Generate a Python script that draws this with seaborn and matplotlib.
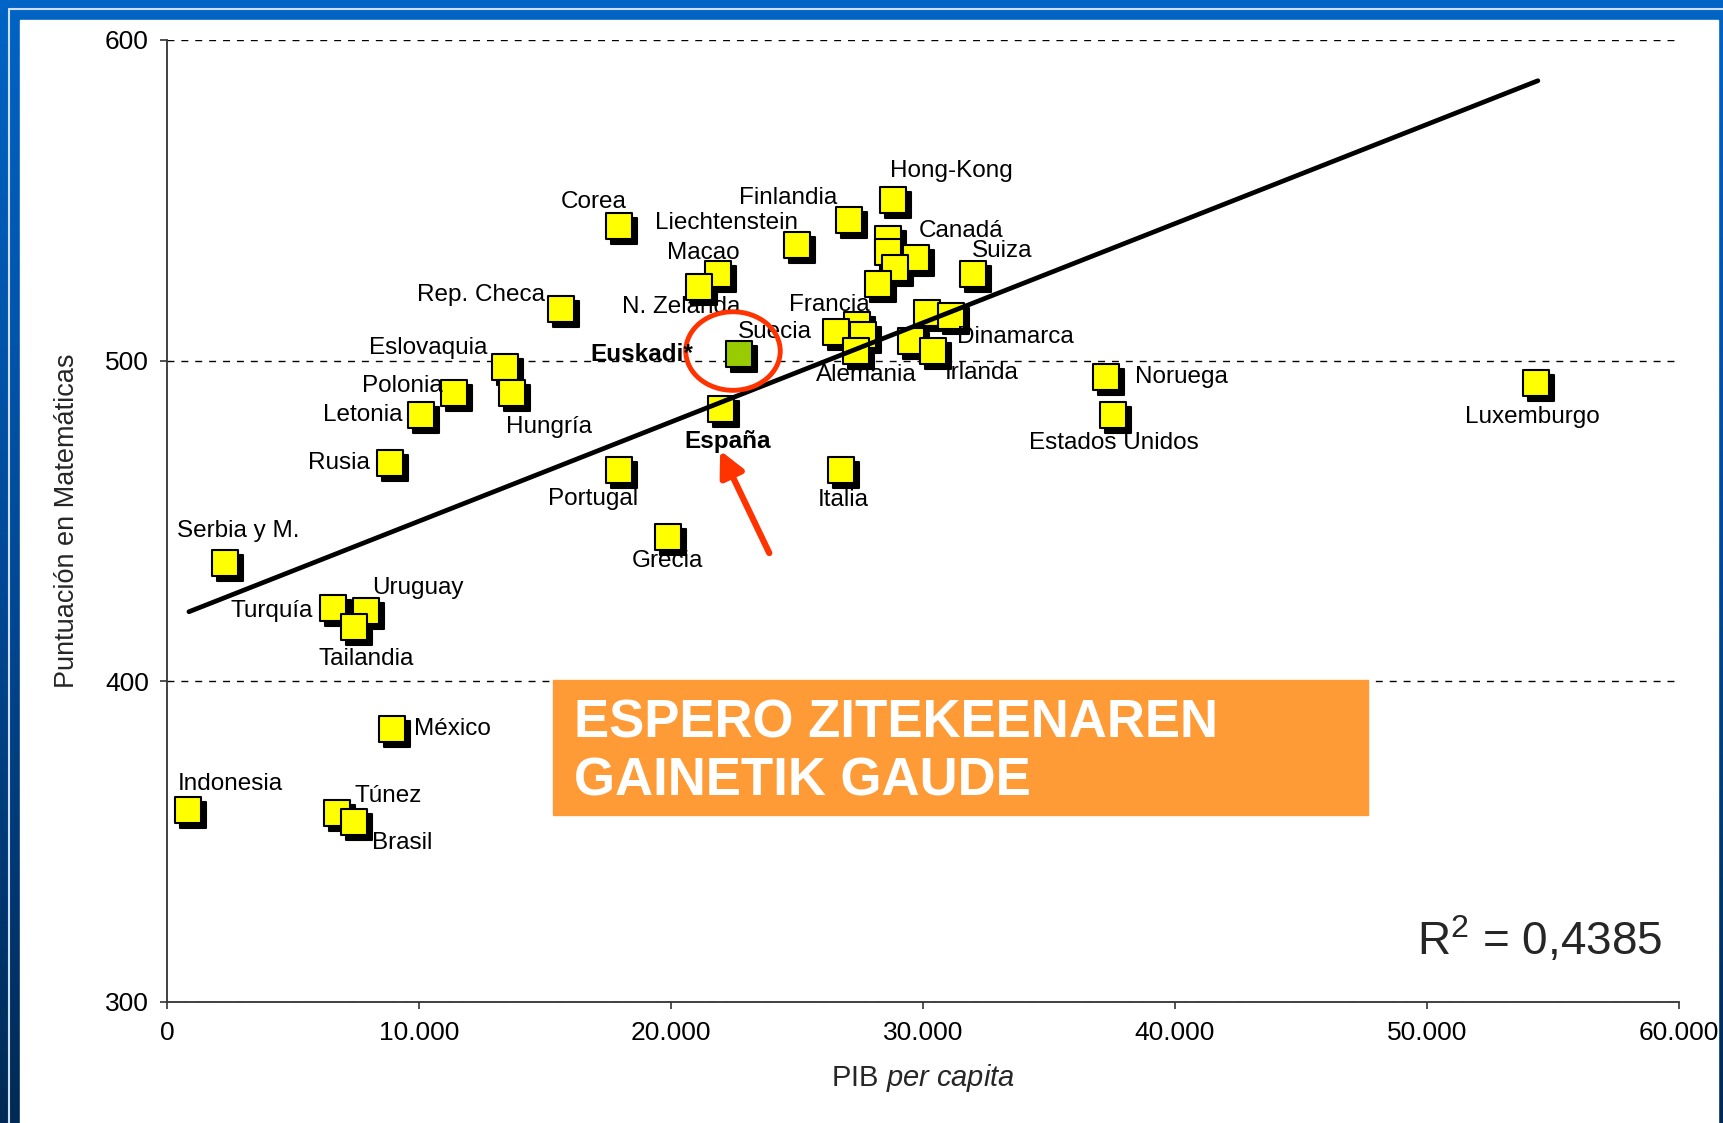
import numpy as np
import pandas as pd
import seaborn as sns
import matplotlib.pyplot as plt
from matplotlib.patches import Rectangle, Ellipse
from matplotlib.colors import LinearSegmentedColormap
from matplotlib.ticker import FuncFormatter
from matplotlib.transforms import ScaledTranslation

# datos (PIB per capita, puntuacion PISA matematicas)
paises = ["Hong-Kong", "Finlandia", "Corea", "Holanda", "Liechtenstein", "Japón",
          "Canadá", "Bélgica", "Macao", "Suiza", "Australia", "N. Zelanda",
          "Rep. Checa", "Islandia", "Dinamarca", "Francia", "Reino Unido", "Suecia",
          "Austria", "Alemania", "Irlanda", "Eslovaquia", "Noruega", "Luxemburgo",
          "Polonia", "Hungría", "España", "Letonia", "Estados Unidos", "Rusia",
          "Portugal", "Italia", "Grecia", "Serbia y M.", "Turquía", "Uruguay",
          "Tailandia", "México", "Indonesia", "Túnez", "Brasil"]
pib = [28800, 27050, 17930, 28620, 25000, 28620,
       29740, 28900, 21860, 31970, 28200, 21120,
       15620, 30140, 31130, 27380, 27620, 26540,
       29540, 27360, 30380, 13400, 37260, 54320,
       11390, 13700, 21990, 10080, 37520, 8860,
       17930, 26740, 19900, 2310, 6590, 7900,
       7420, 8940, 830, 6760, 7420]
mates = [550, 544, 542, 538, 536, 534,
         532, 529, 527, 527, 524, 523,
         516, 515, 514, 511, 508, 509,
         506, 503, 503, 498, 495, 493,
         490, 490, 485, 483, 483, 468,
         466, 466, 445, 437, 423, 422,
         417, 385, 360, 359, 356]

euskadi_pib = [22690]
euskadi_mates = [502]

tend_x = [870, 54400]
tend_y = [421.7, 587.3]

df = pd.DataFrame({"pais": paises, "pib": pib, "mates": mates})
eus = pd.DataFrame({"pib": euskadi_pib, "mates": euskadi_mates})

sns.set_theme(style="white")
plt.rcParams["font.family"] = ["Liberation Sans", "DejaVu Sans"]
plt.rcParams["mathtext.fontset"] = "custom"
plt.rcParams["mathtext.rm"] = "Liberation Sans"
plt.rcParams["mathtext.it"] = "Liberation Sans:italic"

fig = plt.figure(figsize=(17.24, 11.23), dpi=100)

# fondo azul de la diapositiva
bg = fig.add_axes([0, 0, 1, 1], zorder=-5)
grad = np.linspace(0, 1, 256).reshape(-1, 1)
cmap = LinearSegmentedColormap.from_list("fondo", ["#0064c6", "#004a98", "#002a55"])
bg.imshow(grad, aspect="auto", cmap=cmap, extent=[0, 1724, 1123, 0])
bg.add_patch(Rectangle((20, 20), 1698, 1110, color="white"))
bg.plot([9, 9], [9, 1123], color="#d0e0f4", lw=1.5)
bg.plot([9, 1724], [9, 9], color="#d0e0f4", lw=1.5)
bg.set_xlim(0, 1724)
bg.set_ylim(1123, 0)
bg.axis("off")

ax = fig.add_axes([167 / 1724, 1 - 1002 / 1123, 1512 / 1724, 962 / 1123])
ax.set_facecolor("white")

sombra = ax.transData + ScaledTranslation(5 / 100, -5 / 100, fig.dpi_scale_trans)
todos = pd.concat([df[["pib", "mates"]], eus])
sns.scatterplot(data=todos, x="pib", y="mates", marker="s", s=350, color="black",
                edgecolor="black", linewidth=1.5, transform=sombra, ax=ax, zorder=2)
sns.scatterplot(data=df, x="pib", y="mates", marker="s", s=350, color="#ffff00",
                edgecolor="black", linewidth=1.5, ax=ax, zorder=3)
sns.scatterplot(data=eus, x="pib", y="mates", marker="s", s=350, color="#99cc00",
                edgecolor="black", linewidth=1.5, ax=ax, zorder=3)
sns.lineplot(x=tend_x, y=tend_y, color="black", lw=3.4, ax=ax, zorder=4)

# desplazamiento de etiquetas (pixeles de la imagen reducida)
ESC = 1724 / 1568
etiquetas = {
    "Hong-Kong": (53, 27), "Finlandia": (-55, 20), "Liechtenstein": (-64, 20),
    "Corea": (-23, 22), "Macao": (-13, 19), "N. Zelanda": (-16, -18),
    "Rep. Checa": (-72, 13), "Canadá": (41, 25), "Suiza": (27, 21),
    "Francia": (-25, 19), "Suecia": (-55, 0), "Dinamarca": (58, -19),
    "Alemania": (9, -22), "Irlanda": (45, -20), "Eslovaquia": (-70, 17),
    "Polonia": (-47, 6), "Hungría": (33, -31), "Letonia": (-53, 0),
    "Rusia": (-47, 0), "Portugal": (-23, -27), "Italia": (2, -28),
    "Grecia": (-1, -22), "Serbia y M.": (12, 29), "Uruguay": (47, 21),
    "Turquía": (-56, -3), "Tailandia": (11, -29), "México": (55, 0),
    "Indonesia": (39, 23), "Túnez": (46, 15), "Brasil": (44, -19),
    "Noruega": (69, 0), "Estados Unidos": (1, -25), "Luxemburgo": (-3, -31),
    "España": (6, -30),
}
for _, fila in df.iterrows():
    if fila["pais"] not in etiquetas:
        continue
    dx, dy = etiquetas[fila["pais"]]
    peso = "bold" if fila["pais"] == "España" else "normal"
    ax.annotate(fila["pais"], (fila["pib"], fila["mates"]), xytext=(dx * ESC, dy * ESC),
                textcoords="offset pixels", ha="center", va="center",
                fontsize=17.5, fontweight=peso, color="black", zorder=5)
ax.annotate("Euskadi*", (euskadi_pib[0], euskadi_mates[0]), xytext=(-88 * ESC, 0),
            textcoords="offset pixels", ha="center", va="center",
            fontsize=17.5, fontweight="bold", color="black", zorder=7)

# circulo y flecha rojos
ax.add_patch(Ellipse((22460, 503), width=3750, height=24.5, fill=False,
                     edgecolor="#ff3300", lw=3.5, zorder=6))
ax.annotate("", xy=(21950, 472), xytext=(23900, 440),
            arrowprops=dict(arrowstyle="-|>", color="#ff3300", lw=4.5,
                            mutation_scale=38, shrinkA=0, shrinkB=0), zorder=6)

ax.set_xlim(0, 60000)
ax.set_ylim(300, 600)
ax.set_xticks(range(0, 60001, 10000))
ax.set_yticks([300, 400, 500, 600])
ax.xaxis.set_major_formatter(FuncFormatter(lambda v, p: f"{int(v):,}".replace(",", ".")))
ax.yaxis.grid(True, linestyle=(0, (5, 5)), color="black", lw=1)
ax.set_axisbelow(True)
for lado in ["top", "right"]:
    ax.spines[lado].set_visible(False)
for lado in ["left", "bottom"]:
    ax.spines[lado].set_color("#333333")
    ax.spines[lado].set_linewidth(1.3)
ax.tick_params(axis="both", direction="out", length=5, width=1.2, color="#333333",
               labelsize=19, labelcolor="black", left=True, bottom=True)
ax.tick_params(axis="x", pad=9)
ax.tick_params(axis="y", pad=8)
ax.set_xlabel("PIB $\\it{per\\ capita}$", fontsize=21, labelpad=12)
ax.set_ylabel("Puntuación en Matemáticas", fontsize=19.5, labelpad=18)

ax.text(0.9888, 0.0645, "R$^2$ = 0,4385", transform=ax.transAxes, ha="right",
        va="center", fontsize=33)

# recuadro naranja
fig.add_artist(Rectangle((553 / 1724, 1 - 815 / 1123), 815 / 1724, 135 / 1123,
                         transform=fig.transFigure, color="#ff9b36", zorder=10))
fig.text(574 / 1724, 1 - 724 / 1123, "ESPERO ZITEKEENAREN", color="white",
         fontsize=38, fontweight="bold", va="center", ha="left", zorder=11)
fig.text(574 / 1724, 1 - 781 / 1123, "GAINETIK GAUDE", color="white",
         fontsize=38, fontweight="bold", va="center", ha="left", zorder=11)

plt.savefig("out.png", dpi=100)
